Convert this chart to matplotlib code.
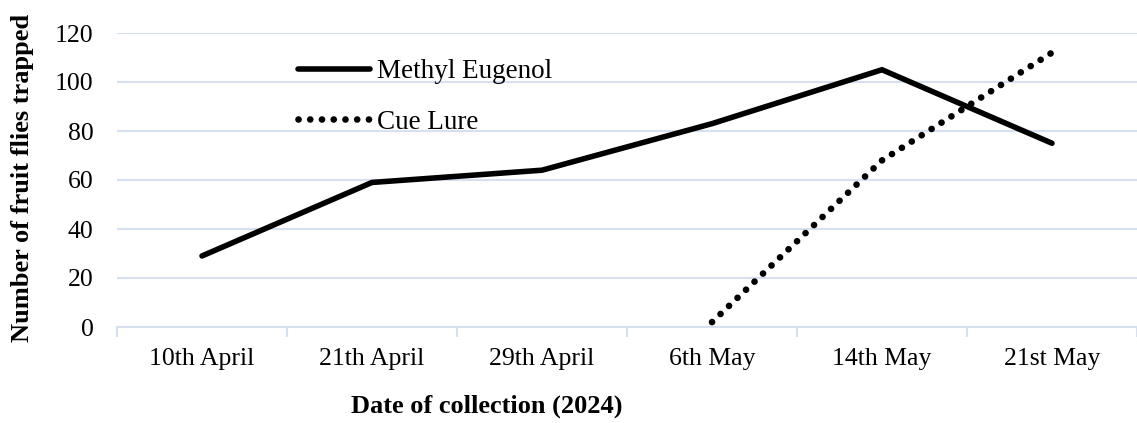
import matplotlib
matplotlib.use("Agg")
import matplotlib.pyplot as plt
import numpy as np

dates = ["10th April", "21th April", "29th April", "6th May", "14th May", "21st May"]
methyl_eugenol = [29, 59, 64, 83, 105, 75]
cue_lure_dates = ["6th May", "14th May", "21st May"]
cue_lure = [2, 68, 112]

plt.rcParams['font.family'] = ['Liberation Serif', 'DejaVu Serif']

fig = plt.figure(figsize=(11.37, 4.23), dpi=100)
ax = fig.add_axes([117/1137, 1-327/423, 1-117/1137, (327-33)/423])

x = np.arange(len(dates))
xc = np.array([dates.index(d) for d in cue_lure_dates])

grid_col = '#D6E0F0'
ax.plot(x, methyl_eugenol, color='black', lw=4.0, solid_capstyle='round',
        solid_joinstyle='miter', label='Methyl Eugenol', zorder=3)
ax.plot(xc, cue_lure, color='black', lw=4.8, linestyle=(0, (0.01, 1.75)),
        dash_capstyle='round', label='Cue Lure', zorder=3)

ax.set_ylim(0, 120)
ax.set_yticks(np.arange(0, 121, 20))
ax.set_xlim(-0.5, -0.5 + (1137-117)/171.5)
ax.set_xticks(x)
ax.set_xticklabels(dates)
ax.set_xticks(np.arange(-0.5, 6, 1.0), minor=True)
ax.tick_params(axis='x', which='major', length=0, pad=15, labelsize=18.5)
ax.tick_params(axis='x', which='minor', length=7, color=grid_col, width=1.5)
ax.tick_params(axis='y', length=0, pad=17, labelsize=18.5)

ax.yaxis.grid(True, color=grid_col, lw=1.5)
ax.set_axisbelow(True)
for s in ['top', 'right', 'left']:
    ax.spines[s].set_visible(False)
ax.spines['bottom'].set_color(grid_col)
ax.spines['bottom'].set_linewidth(1.5)

leg = ax.legend(loc='upper left', bbox_to_anchor=((298-117)/1020, (327-59)/294),
                frameon=False, fontsize=19.5, handlelength=2.66, handletextpad=0.26,
                labelspacing=0.95, borderaxespad=0, borderpad=0)

fig.text(23/1137, 1-178/423, 'Number of fruit flies trapped', rotation=90,
         ha='center', va='center', fontsize=19, fontweight='bold')
fig.text(487/1137, 1-406/423, 'Date of collection (2024)', ha='center',
         va='center', fontsize=19, fontweight='bold')

fig.savefig('out.png', dpi=100)
